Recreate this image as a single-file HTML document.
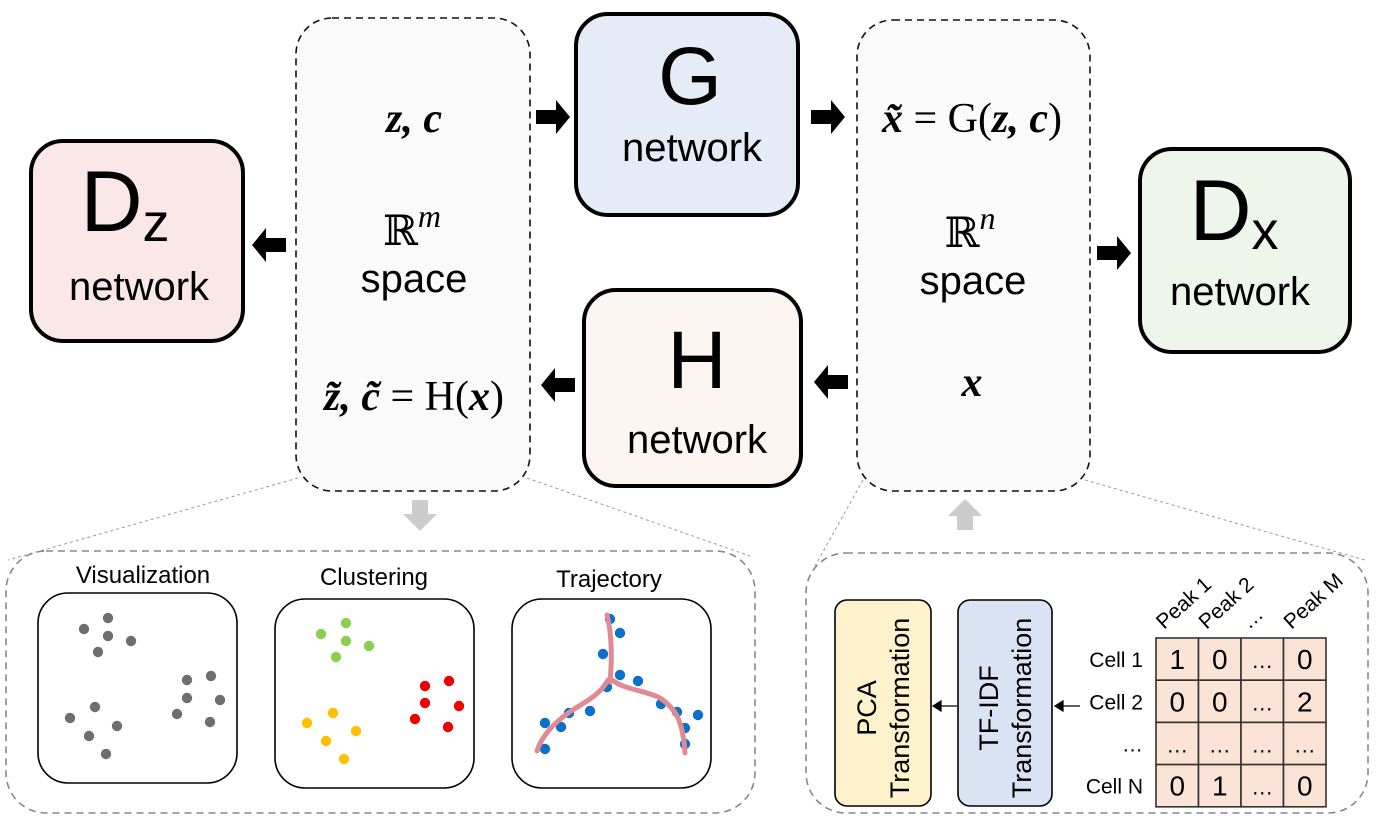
<!DOCTYPE html>
<html><head><meta charset="utf-8"><style>
html,body{margin:0;padding:0;background:#fff}
svg{display:block}
.sans{font-family:"Liberation Sans",sans-serif}
.ser{font-family:"Liberation Serif","DejaVu Serif",serif}
</style></head><body>
<svg id="fig" width="1379" height="820" viewBox="0 0 1379 820" xmlns="http://www.w3.org/2000/svg">
<g stroke="#999" stroke-width="1" stroke-dasharray="3,3" fill="none">
<line x1="298" y1="478" x2="8" y2="560"/><line x1="527" y1="478" x2="750" y2="556"/>
<line x1="863" y1="480" x2="815" y2="566"/><line x1="1085" y1="480" x2="1365" y2="560"/>
</g>
<rect x="296" y="18" width="234" height="473" rx="36" fill="#fafafa" stroke="#111" stroke-width="1.6" stroke-dasharray="7,5"/>
<rect x="857" y="20" width="233" height="471" rx="36" fill="#fafafa" stroke="#111" stroke-width="1.6" stroke-dasharray="7,5"/>
<rect x="31" y="141" width="212" height="200" rx="32" fill="#fbe6e8" stroke="#000" stroke-width="4"/>
<rect x="576" y="14" width="222" height="201" rx="32" fill="#e5ebf7" stroke="#000" stroke-width="4"/>
<rect x="584" y="290" width="217" height="196" rx="32" fill="#fdf5f1" stroke="#000" stroke-width="4"/>
<rect x="1140" y="149" width="210" height="203" rx="32" fill="#eef6ec" stroke="#000" stroke-width="4"/>
<g class="sans" fill="#000" text-anchor="middle">
<text x="125" y="231" font-size="86">D<tspan font-size="54" dy="10">z</tspan></text>
<text x="139" y="300" font-size="40">network</text>
<text x="690" y="104" font-size="82">G</text>
<text x="692" y="161" font-size="40">network</text>
<text x="697" y="388" font-size="82">H</text>
<text x="697" y="453" font-size="40">network</text>
<text x="1234" y="240" font-size="86">D<tspan font-size="54" dy="9">x</tspan></text>
<text x="1240" y="305" font-size="40">network</text>
<text x="414" y="292" font-size="40">space</text>
<text x="973" y="294" font-size="40">space</text>
</g>
<g class="ser" fill="#000" text-anchor="middle" font-size="42">
<text x="414" y="132" font-weight="bold" font-style="italic">z, c</text>
<text x="412" y="245">ℝ<tspan font-style="italic" font-size="32" dy="-18">m</tspan></text>
<text x="414" y="410"><tspan font-weight="bold" font-style="italic">z̃, c̃</tspan> = H(<tspan font-weight="bold" font-style="italic">x</tspan>)</text>
<text x="972" y="132"><tspan font-weight="bold" font-style="italic">x̃</tspan> = G(<tspan font-weight="bold" font-style="italic">z, c</tspan>)</text>
<text x="970" y="247">ℝ<tspan font-style="italic" font-size="32" dy="-18">n</tspan></text>
<text x="972" y="396" font-weight="bold" font-style="italic">x</text>
</g>
<g fill="#000">
<path d="M536,110h20v-10l14,17l-14,17v-10h-20z"/>
<path d="M286,238h-20v-10l-14,17l14,17v-10h20z"/>
<path d="M811,110h20v-10l14,17l-14,17v-10h-20z"/>
<path d="M575,378h-20v-10l-14,17l14,17v-10h20z"/>
<path d="M848,375h-20v-10l-14,17l14,17v-10h20z"/>
<path d="M1097,246h20v-10l14,17l-14,17v-10h-20z"/>
</g>
<g fill="#ccc">
<path d="M412,500h16v14h9l-17,17l-17,-17h9z"/>
<path d="M957,530h16v-14h9l-17,-17l-17,17h9z"/>
</g>
<rect x="6" y="551" width="749" height="262" rx="40" fill="none" stroke="#888" stroke-width="1.6" stroke-dasharray="7,5"/>
<g class="sans" font-size="24" text-anchor="middle" fill="#000">
<text x="143" y="583">Visualization</text>
<text x="374" y="585">Clustering</text>
<text x="609" y="587">Trajectory</text>
</g>
<rect x="38" y="593" width="199" height="190" rx="30" fill="#fff" stroke="#000" stroke-width="1.6"/>
<rect x="275" y="599" width="199" height="189" rx="30" fill="#fff" stroke="#000" stroke-width="1.6"/>
<rect x="512" y="599" width="199" height="189" rx="30" fill="#fff" stroke="#000" stroke-width="1.6"/>
<g id="dots"></g>
<path d="M607,615 C612,635 612,660 610,682 M608,680 C600,695 585,702 571,711 C555,722 542,735 537,751 M612,680 C625,690 645,690 660,698 C675,708 683,720 685,753" fill="none" stroke="#e08a94" stroke-width="5" stroke-linecap="round"/>
<rect x="806" y="553" width="562" height="260" rx="40" fill="none" stroke="#888" stroke-width="1.6" stroke-dasharray="7,5"/>
<rect x="835" y="600" width="96" height="206" rx="12" fill="#fdf2cc" stroke="#000" stroke-width="1.6"/>
<rect x="958" y="600" width="94" height="206" rx="12" fill="#dae3f3" stroke="#000" stroke-width="1.6"/>
<g class="sans" font-size="27" text-anchor="middle" fill="#000">
<text transform="translate(883,708) rotate(-90)"><tspan x="0" dy="-7">PCA</tspan><tspan x="0" dy="33">Transformation</tspan></text>
<text transform="translate(1005,708) rotate(-90)"><tspan x="0" dy="-7">TF-IDF</tspan><tspan x="0" dy="33">Transformation</tspan></text>
</g>
<g stroke="#000" stroke-width="1.2" fill="#000">
<line x1="1080" y1="706" x2="1062" y2="706"/><path d="M1055,706l8,-5v10z"/>
<line x1="957" y1="706" x2="940" y2="706"/><path d="M933,706l8,-5v10z"/>
</g>
<g id="matrix"></g>
</svg>
<script>
const vizX=[108,84,108,131,98,187,211,187,220,177,210,95,70,117,89,106];
const vizY=[618,629,636,641,652,680,676,698,700,714,722,707,718,726,736,754];
const greenX=[346,321,346,369,336], greenY=[623,634,641,646,657];
const redX=[425,449,425,459,415,448], redY=[686,681,703,706,719,727];
const yellowX=[333,307,356,326,344], yellowY=[713,723,731,741,759];
const trajX=[610,620,603,620,638,607,661,677,698,685,685,590,569,545,561,545];
const trajY=[619,633,654,675,681,687,704,712,715,728,744,711,713,723,727,749];
const peaks=["Peak 1","Peak 2","…","Peak M"];
const cells=["Cell 1","Cell 2","…","Cell N"];
const matrixVals=[["1","0","…","0"],["0","0","…","2"],["…","…","…","…"],["0","1","…","0"]];
const NS="http://www.w3.org/2000/svg";
const dots=document.getElementById('dots');
function plot(xs,ys,color,name){
  xs.forEach((x,i)=>{const c=document.createElementNS(NS,'circle');
    c.setAttribute('cx',x);c.setAttribute('cy',ys[i]);c.setAttribute('r',5.2);c.setAttribute('fill',color);
    
    
    dots.appendChild(c);});
}
plot(vizX,vizY,'#6e6e6e','visualization-point');
plot(greenX,greenY,'#8bcf4f','cluster-green-point');
plot(redX,redY,'#f00000','cluster-red-point');
plot(yellowX,yellowY,'#ffc000','cluster-yellow-point');
plot(trajX,trajY,'#0a70c8','trajectory-point');
const m=document.getElementById('matrix');
const gx=1156,gy=638,cw=42.5,ch=42.2;
matrixVals.forEach((row,r)=>row.forEach((v,c)=>{
  const rc=document.createElementNS(NS,'rect');
  rc.setAttribute('x',gx+c*cw);rc.setAttribute('y',gy+r*ch);rc.setAttribute('width',cw);rc.setAttribute('height',ch);
  rc.setAttribute('fill','#fbe3d6');rc.setAttribute('stroke','#333');rc.setAttribute('stroke-width','1.6');
  
  
  m.appendChild(rc);
  const t=document.createElementNS(NS,'text');
  t.setAttribute('x',gx+c*cw+cw/2);t.setAttribute('y',gy+r*ch+ch/2+(v==='…'?9:10));
  t.setAttribute('text-anchor','middle');t.setAttribute('font-size',v==='…'?'22':'28');
  t.setAttribute('font-family','Liberation Sans, sans-serif');t.textContent=v;
  
  
  m.appendChild(t);
}));
cells.forEach((s,r)=>{const t=document.createElementNS(NS,'text');
  t.setAttribute('x',1143);t.setAttribute('y',gy+r*ch+ch/2+8);t.setAttribute('text-anchor','end');
  t.setAttribute('font-size','21');t.setAttribute('font-family','Liberation Sans, sans-serif');t.textContent=s;
  
  
  m.appendChild(t);});
peaks.forEach((s,c)=>{const t=document.createElementNS(NS,'text');
  const x=gx+c*cw+8,y=gy-8;
  t.setAttribute('transform','translate('+x+','+y+') rotate(-42)');
  t.setAttribute('font-size','21');t.setAttribute('font-family','Liberation Sans, sans-serif');t.textContent=s;
  
  
  m.appendChild(t);});
</script>
</body></html>
